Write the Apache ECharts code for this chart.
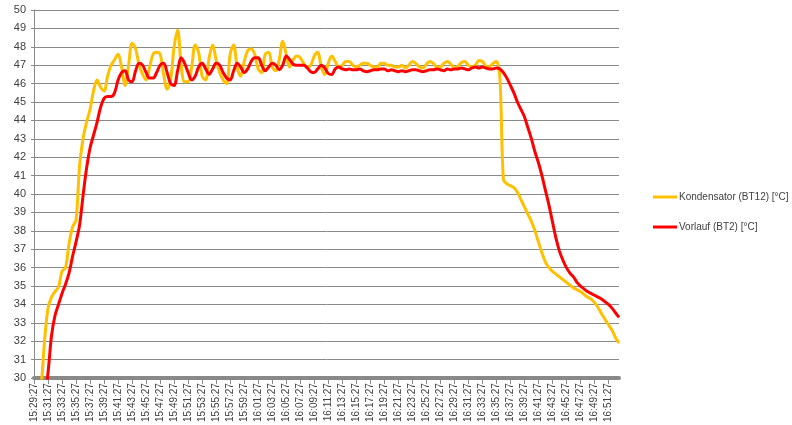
<!DOCTYPE html>
<html>
<head>
<meta charset="utf-8">
<script src="https://cdn.jsdelivr.net/npm/echarts@6/dist/echarts.min.js"></script>
<style>
html,body{margin:0;padding:0;background:#fff;}
#c{width:792px;height:425px;}
</style>
</head>
<body>
<div id="c"></div>
<script>
// Time categories every 30 s starting 15:29:27
const startTime = [15, 29, 27];
const stepSeconds = 30;
const pointCount = 168;
const categories = [];
for (let i = 0; i < pointCount; i++) {
  let s = startTime[0] * 3600 + startTime[1] * 60 + startTime[2] + i * stepSeconds;
  const h = Math.floor(s / 3600), m = Math.floor((s % 3600) / 60), sec = s % 60;
  categories.push(h + ':' + String(m).padStart(2, '0') + ':' + String(sec).padStart(2, '0'));
}

const seriesNames = ['Kondensator (BT12) [°C]', 'Vorlauf (BT2) [°C]'];

const kondensator = [
  29.0, 29.0, 29.6, 32.0, 33.8, 34.4, 34.7, 34.95, 35.8, 36.0,
  37.3, 38.2, 38.6, 41.5, 43.0, 43.9, 44.6, 45.6, 46.2, 45.8,
  45.6, 46.4, 47.0, 47.3, 47.6, 46.9, 45.9, 47.0, 48.2, 47.9,
  47.0, 46.5, 46.2, 46.9, 47.6, 47.7, 47.6, 46.5, 45.7, 46.2,
  48.0, 48.9, 47.0, 46.1, 46.1, 46.9, 48.1, 47.7, 46.4, 46.2,
  47.4, 48.1, 47.3, 46.6, 46.2, 46.0, 47.6, 48.1, 46.9, 46.4,
  47.2, 47.8, 47.9, 47.6, 46.8, 46.6, 47.6, 47.7, 46.9, 46.7,
  47.3, 48.3, 47.6, 46.9, 47.3, 47.5, 47.4, 47.1, 46.9, 47.0,
  47.5, 47.7, 46.9, 46.5, 47.1, 47.5, 47.2, 46.9, 47.0, 47.2,
  47.2, 47.0, 46.9, 47.0, 47.1, 47.1, 47.0, 46.9, 46.9, 47.1,
  47.1, 47.0, 47.0, 46.9, 46.9, 47.0, 46.85, 47.0, 47.2, 47.1,
  46.9, 46.85, 47.05, 47.2, 47.1, 46.9, 46.9, 47.1, 47.2, 47.05,
  46.85, 46.95, 47.15, 47.2, 47.0, 46.9, 47.0, 47.25, 47.2, 46.95,
  46.9, 47.1, 47.2, 46.3, 40.8, 40.55, 40.45, 40.35, 40.1, 39.7,
  39.3, 38.9, 38.5, 38.0, 37.4, 36.8, 36.3, 36.0, 35.8, 35.65,
  35.5, 35.35, 35.2, 35.05, 34.9, 34.8, 34.7, 34.55, 34.4, 34.3,
  34.1, 33.85, 33.5, 33.2, 32.9, 32.6, 32.2, 31.9
];

const vorlauf = [
  29.0, 29.0, 29.0, 29.0, 30.3, 32.3, 33.4, 34.0, 34.6, 35.1,
  35.7, 36.6, 37.4, 38.3, 39.9, 41.4, 42.5, 43.2, 43.9, 44.7,
  45.2, 45.3, 45.3, 45.5, 46.2, 46.6, 46.7, 46.2, 46.1, 46.7,
  47.1, 47.0, 46.6, 46.3, 46.3, 46.6, 47.0, 47.1, 46.6, 46.0,
  45.9, 46.7, 47.4, 47.1, 46.6, 46.2, 46.4, 46.9, 47.1, 46.8,
  46.5, 46.8, 47.1, 47.0, 46.6, 46.3, 46.2, 46.7, 47.1, 46.9,
  46.6, 46.8, 47.2, 47.4, 47.4, 47.0, 46.7, 46.9, 47.1, 47.0,
  46.75, 47.0, 47.5, 47.3, 47.05, 47.0, 47.0, 47.0, 46.85, 46.65,
  46.6, 46.8, 47.0, 46.85, 46.55, 46.5, 46.8, 46.9, 46.8, 46.75,
  46.8, 46.75, 46.75, 46.8, 46.7, 46.65, 46.7, 46.75, 46.75, 46.8,
  46.8, 46.7, 46.75, 46.7, 46.65, 46.7, 46.65, 46.7, 46.75, 46.75,
  46.7, 46.65, 46.7, 46.75, 46.75, 46.8, 46.75, 46.7, 46.8, 46.75,
  46.8, 46.8, 46.85, 46.8, 46.75, 46.85, 46.9, 46.85, 46.9, 46.85,
  46.8, 46.8, 46.85, 46.8, 46.6, 46.3, 45.9, 45.5, 45.0, 44.6,
  44.2, 43.6, 43.0, 42.3, 41.7, 41.0, 40.2, 39.4, 38.5, 37.6,
  36.9, 36.4, 36.0, 35.7, 35.5, 35.2, 35.0, 34.85, 34.7, 34.6,
  34.5, 34.4, 34.3, 34.15, 34.0, 33.8, 33.55, 33.3
];

const yMin = 30, yMax = 50, yStep = 1;

const chart = echarts.init(document.getElementById('c'), null, {renderer: 'canvas'});
chart.setOption({
  animation: false,
  backgroundColor: '#ffffff',
  grid: {left: 34, right: 173, top: 10, bottom: 45, containLabel: false},
  legend: {
    orient: 'vertical',
    left: 653,
    top: 192,
    padding: 0,
    itemWidth: 24,
    itemHeight: 3,
    itemGap: 20,
    icon: 'rect',
    textStyle: {fontFamily: 'Liberation Sans', fontSize: 10, color: '#404040', padding: [0, 0, 0, -3]},
    data: seriesNames
  },
  xAxis: {
    type: 'category',
    data: categories,
    boundaryGap: false,
    axisLine: {show: true, lineStyle: {color: '#898989', width: 4}},
    axisTick: {show: true, interval: 3, length: 6, lineStyle: {color: '#898989', width: 1}},
    axisLabel: {
      interval: 3,
      rotate: 90,
      margin: 5,
      fontFamily: 'Liberation Sans',
      fontSize: 10,
      color: '#404040'
    },
    splitLine: {show: false}
  },
  yAxis: {
    type: 'value',
    min: yMin,
    max: yMax,
    interval: yStep,
    axisLine: {show: true, lineStyle: {color: '#898989', width: 1}},
    axisTick: {show: true, length: 3, lineStyle: {color: '#898989'}},
    axisLabel: {fontFamily: 'Liberation Sans', fontSize: 11, color: '#404040', margin: 8},
    splitLine: {show: true, lineStyle: {color: '#898989', width: 1}}
  },
  series: [
    {
      name: seriesNames[0],
      type: 'line',
      data: kondensator,
      symbol: 'none',
      smooth: 0.35,
      clip: true,
      lineStyle: {color: '#FFC000', width: 3},
      itemStyle: {color: '#FFC000'}
    },
    {
      name: seriesNames[1],
      type: 'line',
      data: vorlauf,
      symbol: 'none',
      smooth: 0.35,
      clip: true,
      lineStyle: {color: '#FF0000', width: 3},
      itemStyle: {color: '#FF0000'}
    }
  ]
});
</script>
</body>
</html>
